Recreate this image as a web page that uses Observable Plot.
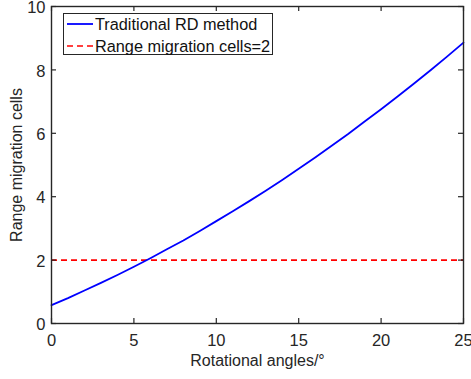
<!DOCTYPE html>
<html>
<head>
<meta charset="utf-8">
<script src="https://cdn.jsdelivr.net/npm/d3@7"></script>
<script src="https://cdn.jsdelivr.net/npm/@observablehq/plot@0.6"></script>
<style>
  html, body { margin: 0; padding: 0; background: #fff; }
  #wrap { position: relative; width: 471px; height: 379px; font-family: "Liberation Sans", Arial, sans-serif; }
  #legend { position: absolute; left: 63px; top: 13px; width: 208px; height: 40px; border: 1.3px solid #262626; background: #fff; color: #111; font-size: 16.3px; white-space: nowrap; }
  .row { position: absolute; left: 0; height: 22px; display: flex; align-items: center; white-space: nowrap; }
  .row svg { display: block; margin-left: 3px; margin-right: 2px; flex: none; }
</style>
</head>
<body>
<div id="wrap"></div>
<script>
const angles = [0,1,2,3,4,5,6,7,8,9,10,11,12,13,14,15,16,17,18,19,20,21,22,23,24,25];
const rdCells = [0.58,0.80,1.04,1.28,1.53,1.79,2.06,2.34,2.62,2.92,3.23,3.54,3.86,4.19,4.53,4.88,5.24,5.61,5.98,6.37,6.76,7.16,7.57,7.99,8.42,8.86];
const thresholdCells = 2;
const xTicks = [0,5,10,15,20,25];
const yTicks = [0,2,4,6,8,10];
const seriesNames = ["Traditional RD method", "Range migration cells=2"];
const xLabel = "Rotational angles/\u00b0";
const yLabel = "Range migration cells";

const rd = angles.map((a, i) => ({angle: a, cells: rdCells[i]}));
const axisColor = "#262626";

const chart = Plot.plot({
  width: 471,
  height: 379,
  marginLeft: 51,
  marginRight: 8,
  marginTop: 6,
  marginBottom: 56,
  x: {domain: [0, 25], label: null},
  y: {domain: [0, 10], label: null},
  style: {fontFamily: "'Liberation Sans', Arial, sans-serif", fontSize: "16.5px", color: "#262626", background: "#fff", overflow: "visible"},
  marks: [
    Plot.ruleY([thresholdCells], {stroke: "#ff0000", strokeWidth: 1.6, strokeDasharray: "6,4"}),
    Plot.line(rd, {x: "angle", y: "cells", stroke: "#0000ff", strokeWidth: 1.8}),
    Plot.frame({stroke: axisColor, strokeWidth: 1.4}),
    Plot.tickX(xTicks, {x: d => d, insetTop: 312, stroke: axisColor, strokeWidth: 1.2}),
    Plot.tickX(xTicks, {x: d => d, insetBottom: 312, stroke: axisColor, strokeWidth: 1.2}),
    Plot.tickY(yTicks, {y: d => d, insetRight: 407, stroke: axisColor, strokeWidth: 1.2}),
    Plot.tickY(yTicks, {y: d => d, insetLeft: 407, stroke: axisColor, strokeWidth: 1.2}),
    Plot.axisX(xTicks, {tickSize: 0, tickPadding: 11, label: null, fill: "#262626", fontSize: 16.5}),
    Plot.axisY(yTicks, {tickSize: 0, tickPadding: 6, dy: 1.5, label: null, fill: "#262626", fontSize: 16.5}),
    Plot.text([xLabel], {frameAnchor: "bottom", dy: 37, lineAnchor: "middle", fill: "#262626", fontSize: 16}),
    Plot.text([yLabel], {frameAnchor: "left", dx: -35, rotate: -90, textAnchor: "middle", lineAnchor: "middle", fill: "#262626", fontSize: 16})
  ]
});

const wrap = document.getElementById("wrap");
wrap.appendChild(chart);

const legend = document.createElement("div");
legend.id = "legend";
const styles = [
  {stroke: "#0000ff", dash: null, width: 1.8},
  {stroke: "#ff0000", dash: "6,4", width: 1.6}
];
seriesNames.forEach((name, i) => {
  const row = document.createElement("div");
  row.className = "row";
  row.style.top = (i * 22 - 1) + "px";
  const s = styles[i];
  row.innerHTML = `<svg width="26" height="20"><line x1="0" x2="26" y1="10" y2="10" stroke="${s.stroke}" stroke-width="${s.width}" ${s.dash ? `stroke-dasharray="${s.dash}"` : ""}/></svg><span>${name}</span>`;
  legend.appendChild(row);
});
wrap.appendChild(legend);
</script>
</body>
</html>
